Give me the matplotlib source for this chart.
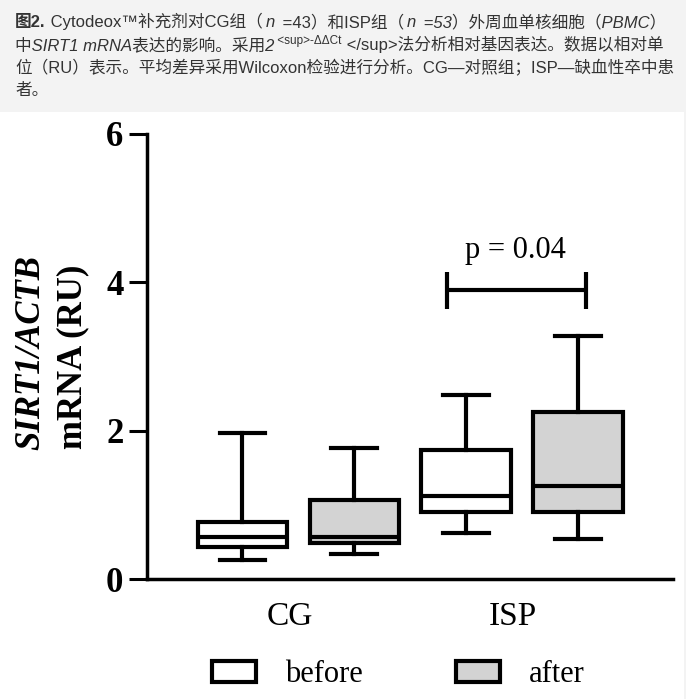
import matplotlib.pyplot as plt
from matplotlib.patches import Patch, Rectangle

groups = ["CG", "ISP"]
conditions = ["before", "after"]
# box stats in order: CG before, CG after, ISP before, ISP after
whislo = [0.26, 0.34, 0.62, 0.54]
q1 = [0.43, 0.48, 0.90, 0.90]
med = [0.57, 0.57, 1.12, 1.25]
q3 = [0.77, 1.06, 1.74, 2.25]
whishi = [1.97, 1.77, 2.48, 3.27]
fills = ["white", "#d3d3d3"]
p_label = "p = 0.04"

# caption pieces: text, style, weight, size, extra gap after (px)
caption_lines = [
    [("图2.", "normal", "bold", 12, 0), (" Cytodeox™补充剂对CG组（", "normal", "normal", 12, 3),
     ("n", "italic", "normal", 12, 3), (" =43）和ISP组（", "normal", "normal", 12, 3),
     ("n", "italic", "normal", 12, 3), (" =53）外周血单核细胞（PBMC）", "italic", "normal", 12, 0)],
    [("中SIRT1 mRNA表达的影响。采用2", "italic", "normal", 12, 0),
     (" <sup>-ΔΔCt", "normal", "normal", 8.5, 0),
     (" </sup>法分析相对基因表达。数据以相对单", "normal", "normal", 12, 0)],
    [("位（RU）表示。平均差异采用Wilcoxon检验进行分析。CG—对照组；ISP—缺血性卒中患", "normal", "normal", 12, 0)],
    [("者。", "normal", "normal", 12, 0)],
]


def draw_caption(fig):
    renderer = fig.canvas.get_renderer()
    W, H = fig.bbox.width, fig.bbox.height
    for i, segs in enumerate(caption_lines):
        x = 15
        base = H - (27 + i * 22.8)
        for txt, style, weight, size, gap in segs:
            dy = 6 if size < 10 else 0
            t = fig.text(x / W, (base + dy) / H, txt, fontsize=size, fontstyle=style,
                         fontweight=weight, color="#333333", va="baseline", ha="left",
                         family=["Liberation Sans", "Noto Sans CJK SC"])
            x = t.get_window_extent(renderer).x1 + gap


def main():
    fig = plt.figure(figsize=(6.86, 6.99), dpi=100)
    fig.patch.set_facecolor("#f3f3f3")
    fig.patches.append(Rectangle((0, 0), 684 / 686, 1 - 112 / 699, transform=fig.transFigure,
                                 facecolor="white", edgecolor="none", zorder=-5))
    draw_caption(fig)

    ax = fig.add_axes([147 / 686, 120 / 699, 526 / 686, 445 / 699])
    ax.set_facecolor("none")
    serif = "Liberation Serif"
    lw = 3.0

    stats = []
    for i in range(len(med)):
        stats.append(dict(whislo=whislo[i], q1=q1[i], med=med[i], q3=q3[i], whishi=whishi[i]))
    positions = [0, 1, 2, 3]
    bp = ax.bxp(stats, positions=positions, widths=0.8, capwidths=0.41, patch_artist=True,
                showfliers=False,
                boxprops=dict(linewidth=lw, edgecolor="black"),
                medianprops=dict(color="black", linewidth=lw),
                whiskerprops=dict(color="black", linewidth=lw),
                capprops=dict(color="black", linewidth=lw))
    for i, box in enumerate(bp["boxes"]):
        box.set_facecolor(fills[i % 2])

    # significance bracket
    ax.plot([1.83, 3.07], [3.9, 3.9], color="black", lw=lw, solid_capstyle="butt")
    for xb in [1.83, 3.07]:
        ax.plot([xb, xb], [3.64, 4.14], color="black", lw=lw, solid_capstyle="butt")
    ax.text(2.44, 4.43, p_label, ha="center", va="center", fontsize=22, family=serif)

    ax.set_xlim(-0.854, 3.85)
    ax.set_ylim(0, 6)
    ax.set_yticks([0, 2, 4, 6])
    ax.set_yticklabels(["0", "2", "4", "6"], fontsize=25, fontweight="bold", family=serif)
    ax.set_xticks([0.42, 2.42])
    ax.set_xticklabels(groups, fontsize=24, family=serif)
    ax.tick_params(axis="x", length=0, pad=16)
    ax.tick_params(axis="y", length=13, width=2.2, pad=4)
    for s in ["top", "right"]:
        ax.spines[s].set_visible(False)
    for s in ["left", "bottom"]:
        ax.spines[s].set_linewidth(2.5)

    fig.text(31 / 686, 1 - 353 / 699, "SIRT1/ACTB", rotation=90, ha="center", va="center",
             fontsize=25, fontweight="bold", fontstyle="italic", family=serif)
    fig.text(73 / 686, 1 - 357 / 699, "mRNA (RU)", rotation=90, ha="center", va="center",
             fontsize=25, fontweight="bold", family=serif)

    handles = [Patch(facecolor=fills[i], edgecolor="black", linewidth=lw) for i in range(2)]
    fig.legend(handles, conditions, loc="center left", bbox_to_anchor=(212 / 686, 1 - 675 / 699),
               ncol=2, frameon=False, borderpad=0, borderaxespad=0, handlelength=1.44,
               handleheight=0.66, handletextpad=0.95, columnspacing=3.05,
               prop=dict(family=serif, size=22))

    fig.savefig("out.png", dpi=100, facecolor=fig.get_facecolor())


if __name__ == "__main__":
    main()
